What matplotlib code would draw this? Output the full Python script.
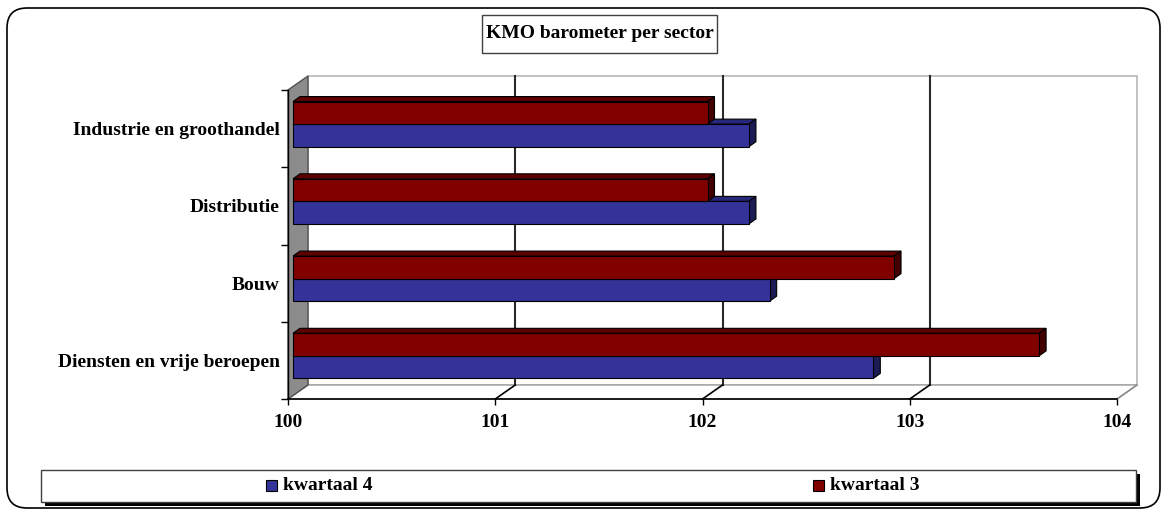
import matplotlib
matplotlib.use("Agg")
import matplotlib.pyplot as plt
from matplotlib.patches import Polygon, Rectangle, FancyBboxPatch
from matplotlib.transforms import Affine2D, offset_copy

# KMO barometer per sector - Excel style 3D horizontal bars

sectors = ["Diensten en vrije beroepen", "Bouw", "Distributie", "Industrie en groothandel"]
kwartaal4 = [102.8, 102.3, 102.2, 102.2]
kwartaal3 = [103.6, 102.9, 102.0, 102.0]
series_names = ["kwartaal 4", "kwartaal 3"]
xticks = [100, 101, 102, 103, 104]

blue = "#333399"
blue_top = "#28287a"
blue_side = "#1c1c55"
red = "#800000"
red_top = "#5e0000"
red_side = "#420000"

W, H, DPI = 1162, 509, 100
font = "Liberation Serif"

fig = plt.figure(figsize=(W / DPI, H / DPI), dpi=DPI)
# pixel coords, origin top-left
pix = Affine2D().scale(1 / DPI, -1 / DPI).translate(0, H / DPI) + fig.dpi_scale_trans

# outer rounded border
fig.patches.append(FancyBboxPatch((7, 8), 1153, 500, boxstyle="round,pad=0,rounding_size=20",
                                  transform=pix, fill=False, edgecolor="black", linewidth=1.2))

ax = fig.add_axes([288 / W, (H - 399) / H, (1117 - 288) / W, (399 - 90) / H])
ax.set_xlim(100, 104)
ax.set_ylim(-0.5, 3.5)
ax.patch.set_visible(False)

# pixel offsets -> data units
p0 = ax.transData.transform((100, 0))
p1 = ax.transData.transform((101, 1))
ux = 1 / (p1[0] - p0[0])
uy = 1 / (p1[1] - p0[1])

dx, dy = 20 * ux, 14 * uy      # wall depth
bx, by = 5 * ux, 4.5 * uy      # bar position in depth
fx, fy = 7 * ux, 5 * uy        # bar thickness
x0, x1 = xticks[0], xticks[-1]
y0, y1 = -0.5, len(sectors) - 0.5

# back wall
ax.add_patch(Polygon([(x0 + dx, y0 + dy), (x1 + dx, y0 + dy), (x1 + dx, y1 + dy), (x0 + dx, y1 + dy)],
                     closed=True, facecolor="white", edgecolor="#b8b8b8", linewidth=1.2, zorder=1, clip_on=False))
# floor
ax.add_patch(Polygon([(x0, y0), (x1, y0), (x1 + dx, y0 + dy), (x0 + dx, y0 + dy)],
                     closed=True, facecolor="white", edgecolor="#a0a0a0", linewidth=1.0, zorder=1.2, clip_on=False))
# left wall
ax.add_patch(Polygon([(x0, y0), (x0, y1), (x0 + dx, y1 + dy), (x0 + dx, y0 + dy)],
                     closed=True, facecolor="#8c8c8c", edgecolor="#505050", linewidth=1.0, zorder=1.5, clip_on=False))

# gridlines on the back wall and floor
for t in xticks[1:-1]:
    ax.plot([t + dx, t + dx], [y0 + dy, y1 + dy], color="#2a2a2a", linewidth=1.5, zorder=1.6, clip_on=False)
for t in xticks[1:]:
    c = "black" if t != x1 else "#909090"
    ax.plot([t, t + dx], [y0, y0 + dy], color=c, linewidth=1.2, zorder=1.6, clip_on=False)

# bars
h = 0.292
pos = list(range(len(sectors)))
bar_tr = offset_copy(ax.transData, fig=fig, x=5, y=4.5, units="dots")


def bar_depth(vals, ybottom, top_c, side_c, z):
    for v, yb in zip(vals, ybottom):
        yt = yb + h
        ax.add_patch(Polygon([(x0 + bx, yt + by), (v + bx, yt + by), (v + bx + fx, yt + by + fy),
                              (x0 + bx + fx, yt + by + fy)], closed=True, facecolor=top_c,
                             edgecolor="black", linewidth=0.8, zorder=z, clip_on=False))
        ax.add_patch(Polygon([(v + bx, yb + by), (v + bx, yt + by), (v + bx + fx, yt + by + fy),
                              (v + bx + fx, yb + by + fy)], closed=True, facecolor=side_c,
                             edgecolor="black", linewidth=0.8, zorder=z, clip_on=False))


blue_y = [p - h for p in pos]
red_y = [p for p in pos]
bar_depth(kwartaal4, blue_y, blue_top, blue_side, 3)
ax.barh(blue_y, [v - x0 for v in kwartaal4], left=x0, height=h, align="edge", color=blue,
        edgecolor="black", linewidth=0.8, transform=bar_tr, zorder=3.1, clip_on=False)
bar_depth(kwartaal3, red_y, red_top, red_side, 3.2)
ax.barh(red_y, [v - x0 for v in kwartaal3], left=x0, height=h, align="edge", color=red,
        edgecolor="black", linewidth=0.8, transform=bar_tr, zorder=3.3, clip_on=False)
ax.set_xlim(100, 104)
ax.set_ylim(-0.5, 3.5)

# axes
for s in ["top", "right"]:
    ax.spines[s].set_visible(False)
ax.spines["left"].set_linewidth(1.0)
ax.spines["bottom"].set_linewidth(1.2)
ax.set_xticks(xticks)
ax.set_xticklabels([str(t) for t in xticks], fontfamily=font, fontweight="bold", fontsize=14)
ax.tick_params(axis="x", length=4, width=1, pad=6.5)
ax.set_yticks([p - 0.5 for p in pos] + [y1])
ax.set_yticklabels([])
ax.set_yticks(pos, minor=True)
ax.set_yticklabels(sectors, minor=True, fontfamily=font, fontweight="bold", fontsize=14)
ax.tick_params(axis="y", which="major", length=5, width=1)
ax.tick_params(axis="y", which="minor", length=0, pad=5.8)

# title box
fig.text(599.5, 34, "KMO barometer per sector", transform=pix, ha="center", va="center",
         fontfamily=font, fontweight="bold", fontsize=14)
fig.patches.append(Rectangle((482, 15), 235, 38, transform=pix, fill=False,
                             edgecolor="#404040", linewidth=1.0))

# legend box with shadow
fig.patches.append(Rectangle((45, 474), 1095, 32, transform=pix, facecolor="black", edgecolor="none"))
fig.patches.append(Rectangle((41, 470), 1095, 32, transform=pix, facecolor="white",
                             edgecolor="#404040", linewidth=1.0))
for name, c, lx in zip(series_names, [blue, red], [266, 813]):
    fig.patches.append(Rectangle((lx, 480), 11, 11, transform=pix, facecolor=c,
                                 edgecolor="black", linewidth=0.8))
    fig.text(lx + 17, 486, name, transform=pix, ha="left", va="center",
             fontfamily=font, fontweight="bold", fontsize=14)

fig.savefig("out.png", dpi=DPI)
